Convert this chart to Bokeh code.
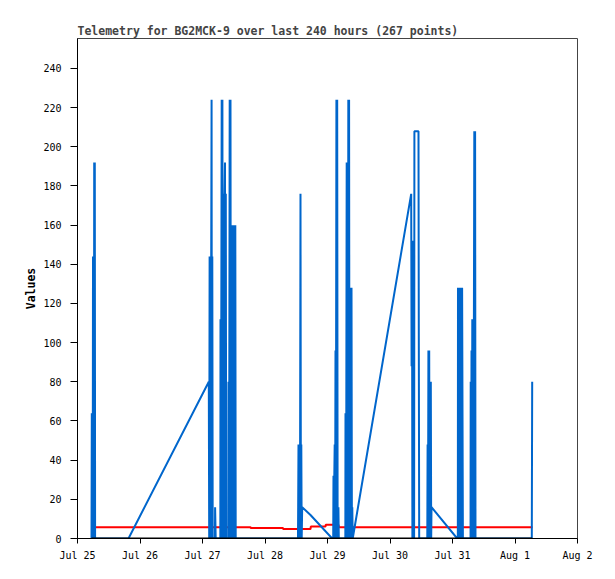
import pandas as pd
from bokeh.plotting import figure
from bokeh.models import Range1d, FixedTicker, ColumnDataSource
from bokeh.embed import file_html
from bokeh.resources import INLINE

# ---------------- data (hours after Jul 25 00:00) ----------------
BASE = pd.Timestamp("2024-07-25 00:00")

blue_hours = [
    5.376, 5.491, 5.606, 5.722, 5.837, 5.952, 6.067, 6.182, 6.298, 6.413, 6.528, 6.643, 6.758,
    8.83, 14.59, 19.58,
    50.42, 50.57, 50.73, 50.88, 51.03, 51.19, 51.34, 51.49, 51.61, 51.76, 51.92,
    52.78, 52.84, 53.07,
    54.85, 54.91, 55.07, 55.22, 55.37, 55.53, 55.64, 55.80,
    56.12, 56.18, 56.33, 56.49, 56.64, 56.79, 56.95, 57.10,
    57.92, 57.98, 58.14, 58.29, 58.44, 58.60, 58.75, 58.91,
    59.06, 59.21, 59.37, 59.52, 59.67, 59.83, 59.98, 60.13, 60.29, 60.44, 60.60, 60.75,
    66.43, 74.11,
    84.67, 84.86, 85.02, 85.17, 85.32, 85.48, 85.63, 85.79, 85.94, 86.09, 86.28,
    89.47, 97.80,
    98.19, 98.30, 98.46, 98.61, 98.76, 98.92, 99.07, 99.22, 99.42, 99.57, 99.72, 99.88,
    100.03, 100.19, 100.34,
    102.85, 102.91, 103.07, 103.22, 103.37, 103.53, 103.68, 103.83, 103.99, 104.14, 104.29, 104.45,
    104.60, 104.76, 104.91, 105.06, 105.22, 105.37, 105.52, 105.68,
    128.14, 128.29, 128.45, 128.60, 128.75, 128.91, 129.26, 129.37, 130.94, 131.06, 131.21,
    134.32, 134.44, 134.59, 134.75, 134.90, 135.05, 135.21, 135.36, 135.51, 135.67, 135.82, 135.94,
    145.80,
    146.05, 146.11, 146.27, 146.42, 146.57, 146.73, 146.88, 147.03,
    147.32, 147.38, 147.53, 147.69, 147.84, 147.99,
    150.93, 150.99, 151.14, 151.30, 151.45, 151.60, 151.76, 151.91, 152.06, 152.22, 152.37, 152.52,
    152.68, 152.83,
    158.59, 166.27, 174.45, 174.60,
]
blue_values = [
    0, 64, 0, 64, 0, 144, 0, 144, 0, 192, 0, 192, 0,
    0, 0, 0,
    80, 0, 144, 0, 144, 0, 144, 224, 0, 144, 0,
    0, 16, 0,
    0, 112, 0, 112, 224, 0, 224, 0,
    0, 176, 0, 176, 192, 0, 176, 0,
    0, 80, 0, 80, 224, 0, 224, 0,
    160, 0, 160, 0, 160, 0, 160, 0, 160, 0, 160, 0,
    0, 0,
    0, 48, 0, 48, 0, 48, 176, 0, 48, 0, 16,
    12, 0,
    0, 32, 0, 32, 48, 0, 96, 0, 224, 0, 224, 16,
    0, 16, 0,
    0, 64, 0, 64, 192, 0, 192, 0, 224, 0, 224, 0,
    128, 0, 128, 0, 128, 0, 16, 0,
    176, 88, 152, 0, 152, 0, 0, 208, 208, 104, 0,
    0, 48, 0, 96, 0, 96, 0, 80, 0, 80, 0, 16,
    0,
    0, 128, 0, 96, 0, 96, 128, 0,
    0, 128, 0, 128, 64, 0,
    0, 80, 0, 96, 0, 112, 0, 112, 0, 112, 208, 0,
    208, 0,
    0, 0, 0, 80,
]

red_hours = [5.38, 66.43, 66.55, 78.91, 79.03, 89.47, 89.59, 95.23, 95.35, 100.22, 100.34, 174.72]
red_values = [5.8, 5.8, 5.3, 5.3, 4.8, 4.8, 6.1, 6.1, 7.0, 7.0, 5.8, 5.8]

black_hours = [5.38, 66.43, 100.34, 174.60]
black_values = [0, 0, 0, 0]

x_tick_labels = ["Jul 25", "Jul 26", "Jul 27", "Jul 28", "Jul 29",
                 "Jul 30", "Jul 31", "Aug 1", "Aug 2"]
y_ticks = [0, 20, 40, 60, 80, 100, 120, 140, 160, 180, 200, 220, 240]

TITLE = "Telemetry for BG2MCK-9 over last 240 hours (267 points)"
FONT = "DejaVu Sans Mono"


def to_time(hours):
    return BASE + pd.to_timedelta(hours, unit="h")


blue_src = ColumnDataSource(dict(t=to_time(blue_hours), v=blue_values))
red_src = ColumnDataSource(dict(t=to_time(red_hours), v=red_values))
black_src = ColumnDataSource(dict(t=to_time(black_hours), v=black_values))

day_times = [BASE + pd.Timedelta(days=i) for i in range(len(x_tick_labels))]
tick_ms = [d.value / 1e6 for d in day_times]

p = figure(
    frame_width=500, frame_height=500,
    x_axis_type="datetime",
    x_range=Range1d(day_times[0].to_pydatetime(), day_times[-1].to_pydatetime()),
    y_range=Range1d(0, 255.3),
    output_backend="svg", toolbar_location=None,
    min_border_left=77, min_border_right=30, min_border_top=38, min_border_bottom=33,
    title=TITLE,
)

p.line("t", "v", source=red_src, line_color="#ff0000", line_width=2)
p.line("t", "v", source=blue_src, line_color="#0066cc", line_width=2)
p.line("t", "v", source=black_src, line_color="#000000", line_width=2)

p.title.text_font = FONT
p.title.text_font_size = "11.5px"
p.title.text_font_style = "bold"
p.title.align = "left"
p.title.standoff = 2
p.title.offset = 0

p.grid.visible = False
p.outline_line_color = "#444444"
p.outline_line_width = 1
p.background_fill_color = "white"
p.border_fill_color = "white"

xa = p.xaxis[0]
xa.ticker = FixedTicker(ticks=tick_ms)
xa.major_label_overrides = {ms: lab for ms, lab in zip(tick_ms, x_tick_labels)}
xa.major_tick_out = 5
xa.major_tick_in = 0
xa.minor_tick_out = 0
xa.minor_tick_in = 0
xa.major_label_standoff = 6

ya = p.yaxis[0]
ya.ticker = FixedTicker(ticks=y_ticks)
ya.axis_label = "Values"
ya.major_tick_out = 7
ya.major_tick_in = 0
ya.minor_tick_out = 0
ya.minor_tick_in = 0
ya.major_label_standoff = 9
ya.axis_label_standoff = 2

for ax in (xa, ya):
    ax.axis_line_color = "black"
    ax.major_tick_line_color = "black"
    ax.major_label_text_font = FONT
    ax.major_label_text_font_size = "10px"
    ax.major_label_text_color = "black"
    ax.axis_label_text_font = FONT
    ax.axis_label_text_font_size = "11.5px"
    ax.axis_label_text_font_style = "bold"
    ax.axis_label_text_color = "black"

open("out.html", "w").write(file_html(p, INLINE))
